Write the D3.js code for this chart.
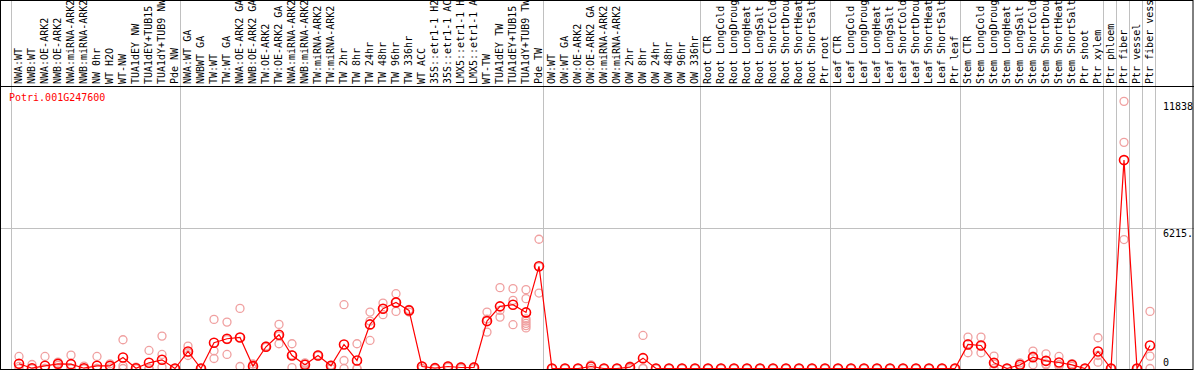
<!DOCTYPE html>
<html>
<head>
<meta charset="utf-8">
<script src="https://cdn.jsdelivr.net/npm/d3@7"></script>
<style>
body { margin: 0; background: #fff; }
text { font-family: "DejaVu Sans Mono", monospace; font-size: 10px; }
</style>
</head>
<body>
<svg id="chart" width="1194" height="370"></svg>
<script>
const GENE = 'Potri.001G247600'

const SAMPLES = [
    'NWA:WT', 'NWB:WT', 'NWA:OE-ARK2', 'NWB:OE-ARK2', 'NWA:miRNA-ARK2', 'NWB:miRNA-ARK2',
    'NW 0hr', 'WT H2O', 'WT-NW', 'TUA1dEY NW', 'TUA1dEY+TUB15 NW', 'TUA1dY+TUB9 NW', 'Pde NW',
    'NWA:WT GA', 'NWBWT GA', 'TW:WT', 'TW:WT GA', 'NWA:OE-ARK2 GA', 'NWB:OE-ARK2 GA',
    'TW:OE-ARK2', 'TW:OE-ARK2 GA', 'NWA:miRNA-ARK2', 'NWB:miRNA-ARK2', 'TW:miRNA-ARK2',
    'TW:miRNA-ARK2', 'TW 2hr', 'TW 8hr', 'TW 24hr', 'TW 48hr', 'TW 96hr', 'TW 336hr', 'WT ACC',
    '35S::etr1-1 H2O', '35S::etr1-1 ACC', 'LMX5::etr1-1 H2O', 'LMX5::etr1-1 ACC', 'WT-TW',
    'TUA1dEY TW', 'TUA1dEY+TUB15 TW', 'TUA1dY+TUB9 TW', 'Pde TW',
    'OW:WT', 'OW:WT GA', 'OW:OE-ARK2', 'OW:OE-ARK2 GA', 'OW:miRNA-ARK2', 'OW:miRNA-ARK2',
    'OW 2hr', 'OW 8hr', 'OW 24hr', 'OW 48hr', 'OW 96hr', 'OW 336hr',
    'Root CTR', 'Root LongCold', 'Root LongDrought', 'Root LongHeat', 'Root LongSalt',
    'Root ShortCold', 'Root ShortDrought', 'Root ShortHeat', 'Root ShortSalt', 'Ptr root',
    'Leaf CTR', 'Leaf LongCold', 'Leaf LongDrought', 'Leaf LongHeat', 'Leaf LongSalt',
    'Leaf ShortCold', 'Leaf ShortDrought', 'Leaf ShortHeat', 'Leaf ShortSalt', 'Ptr leaf',
    'Stem CTR', 'Stem LongCold', 'Stem LongDrought', 'Stem LongHeat', 'Stem LongSalt',
    'Stem ShortCold', 'Stem ShortDrought', 'Stem ShortHeat', 'Stem ShortSalt', 'Ptr shoot',
    'Ptr xylem', 'Ptr phloem', 'Ptr fiber', 'Ptr vessel', 'Ptr fiber vessel'
]

// index of the first sample of each experiment block
const GROUP_STARTS = [0, 13, 41, 53, 63, 73, 84, 85, 86, 87, 88]

const MEANS = [
    209, 13, 120, 209, 192, 13, 120, 120, 488, 13, 252, 385, 0,
    755, 0, 1141, 1319, 1376, 104, 963, 1496, 577, 163, 577, 120, 1066, 355, 1954,
    2650, 2930, 2575, 89, 15, 89, 44, 44, 2101, 2753, 2828, 2486, 4529,
    0, 0, 0, 89, 0, 0, 60, 459, 0, 0, 0, 0,
    0, 0, 0, 0, 0, 0, 0, 0, 0, 0,
    0, 0, 0, 0, 0, 0, 0, 0, 0, 0,
    1066, 1021, 252, 0, 163, 503, 340, 266, 163, 0, 755,
    0, 9235, 0, 1021
]

const REPLICATES = [
    [533, 90, 0], [178, 0, 0], [533, 0, 0], [281, 209, 140], [592, 0, 0], [104, 0, 0],
    [533, 0, 0], [209, 120, 30], [1273, 120, 0], [60, 0, 0], [799, 0, 0], [1435, 622, 60], [0, 0, 0],
    [990, 577, 700], [0, 0, 0], [2176, 786, 444], [2056, 622, 1280], [2664, 1376, 89],
    [200, 90, 0], [1000, 950, 940], [1954, 1097, 1450], [1097, 600, 40], [250, 200, 0],
    [600, 560, 570], [150, 100, 0], [2828, 355, 0], [1097, 0, 0], [2500, 1243, 2100],
    [2900, 2384, 2650], [3316, 2531, 2930], [2620, 2500, 2600], [89, 0, 100], [15, 0, 0],
    [89, 50, 120], [44, 0, 80], [44, 0, 80], [2500, 1612, 2190], [3583, 2575, 2278],
    [3539, 3019, 1940], [3494, 3095, 2200, 2100, 2000, 1900, 1800], [5728, 3343, 4500],
    [0, 0, 0], [0, 0, 0], [0, 0, 0], [163, 90, 0], [0, 0, 0], [0, 0, 0],
    [104, 60, 0], [1465, 13, 0], [0, 0, 0], [0, 0, 0], [0, 0, 0], [0, 0, 0],
    [0, 0, 0], [0, 0, 0], [0, 0, 0], [0, 0, 0], [0, 0, 0],
    [0, 0, 0], [0, 0, 0], [0, 0, 0], [0, 0, 0], [0, 0, 0],
    [0, 0, 0], [0, 0, 0], [0, 0, 0], [0, 0, 0], [0, 0, 0],
    [0, 0, 0], [0, 0, 0], [0, 0, 0], [0, 0, 0], [0, 0, 0],
    [1390, 697, 1100], [1390, 697, 1000], [548, 0, 200], [0, 0, 0], [250, 163, 80],
    [770, 163, 550], [651, 163, 200], [533, 163, 100], [163, 100, 220], [0, 0, 0],
    [1363, 577, 281],
    [0, 0, 0], [11838, 10021, 5714], [0, 0, 0], [2531, 548, 0]
]

const Y_TICKS = [11838, 6215, 0]
const Y_TICK_LABELS = ['11838', '6215.0', '0']
const GRID_VALUES = [6215]

const W = 1194, H = 370
const LABEL_BOTTOM = 86
const PLOT_BOTTOM = 369

const svg = d3.select('#chart')

const maxRep = d3.max(REPLICATES.flat())

const x = d3.scaleLinear()
    .domain([0, SAMPLES.length])
    .range([10.5, 10.5 + 13 * SAMPLES.length])

const y = d3.scaleLinear()
    .domain([0, maxRep * 1.05])
    .range([368.5, 88])

const cx = (i) => x(i) + 8.5

const defs = svg.append('defs')
defs.append('clipPath').attr('id', 'labelClip')
    .append('rect').attr('x', 0).attr('y', 0).attr('width', W).attr('height', LABEL_BOTTOM)
defs.append('clipPath').attr('id', 'plotClip')
    .append('rect').attr('x', 0).attr('y', LABEL_BOTTOM).attr('width', W).attr('height', PLOT_BOTTOM - LABEL_BOTTOM)
defs.append('clipPath').attr('id', 'allClip')
    .append('rect').attr('x', 0).attr('y', 0).attr('width', W - 1).attr('height', H)

// grey separators between experiment blocks
svg.append('g')
    .selectAll('line')
    .data(GROUP_STARTS)
    .join('line')
        .attr('x1', (d) => Math.round(x(d)) + 0.5)
        .attr('x2', (d) => Math.round(x(d)) + 0.5)
        .attr('y1', 0)
        .attr('y2', H)
        .attr('stroke', '#c0c0c0')

svg.append('g')
    .selectAll('line')
    .data(GRID_VALUES)
    .join('line')
        .attr('x1', 0)
        .attr('x2', W)
        .attr('y1', (d) => Math.round(y(d)) + 0.5)
        .attr('y2', (d) => Math.round(y(d)) + 0.5)
        .attr('stroke', '#c0c0c0')

// sample names, rotated
svg.append('g')
    .attr('clip-path', 'url(#labelClip)')
    .selectAll('text')
    .data(SAMPLES)
    .join('text')
        .attr('transform', (d, i) => `translate(${x(i) + 11}, 84) rotate(-90)`)
        .attr('fill', '#000')
        .text((d) => d)

svg.append('text')
    .attr('x', 9)
    .attr('y', 101)
    .attr('fill', '#ff0000')
    .text(GENE)

const plot = svg.append('g').attr('clip-path', 'url(#plotClip)')

const reps = REPLICATES.flatMap((vals, i) => vals.map((v) => ({ i, v })))

plot.append('g')
    .selectAll('circle')
    .data(reps)
    .join('circle')
        .attr('cx', (d) => cx(d.i))
        .attr('cy', (d) => y(d.v))
        .attr('r', 4)
        .attr('fill', 'none')
        .attr('stroke', '#f0a0a0')
        .attr('stroke-width', 1.3)

plot.append('path')
    .datum(MEANS)
    .attr('d', d3.line().x((d, i) => cx(i)).y((d) => y(d)))
    .attr('fill', 'none')
    .attr('stroke', '#ff0000')
    .attr('stroke-width', 1.2)

plot.append('g')
    .selectAll('circle')
    .data(MEANS)
    .join('circle')
        .attr('cx', (d, i) => cx(i))
        .attr('cy', (d) => y(d))
        .attr('r', 4.5)
        .attr('fill', 'none')
        .attr('stroke', '#ff0000')
        .attr('stroke-width', 1.6)

// value labels on the right
svg.append('g')
    .attr('clip-path', 'url(#allClip)')
    .selectAll('text')
    .data(Y_TICKS)
    .join('text')
        .attr('x', 1163)
        .attr('y', (d) => d === 0 ? 366 : y(d) + 9)
        .attr('fill', '#000')
        .text((d, i) => Y_TICK_LABELS[i])

// frame
svg.append('rect')
    .attr('x', 0.5).attr('y', 0.5)
    .attr('width', W - 1.5).attr('height', PLOT_BOTTOM)
    .attr('fill', 'none')
    .attr('stroke', '#000')

svg.append('line')
    .attr('x1', 0).attr('x2', W)
    .attr('y1', LABEL_BOTTOM + 0.5).attr('y2', LABEL_BOTTOM + 0.5)
    .attr('stroke', '#000')
</script>
</body>
</html>
